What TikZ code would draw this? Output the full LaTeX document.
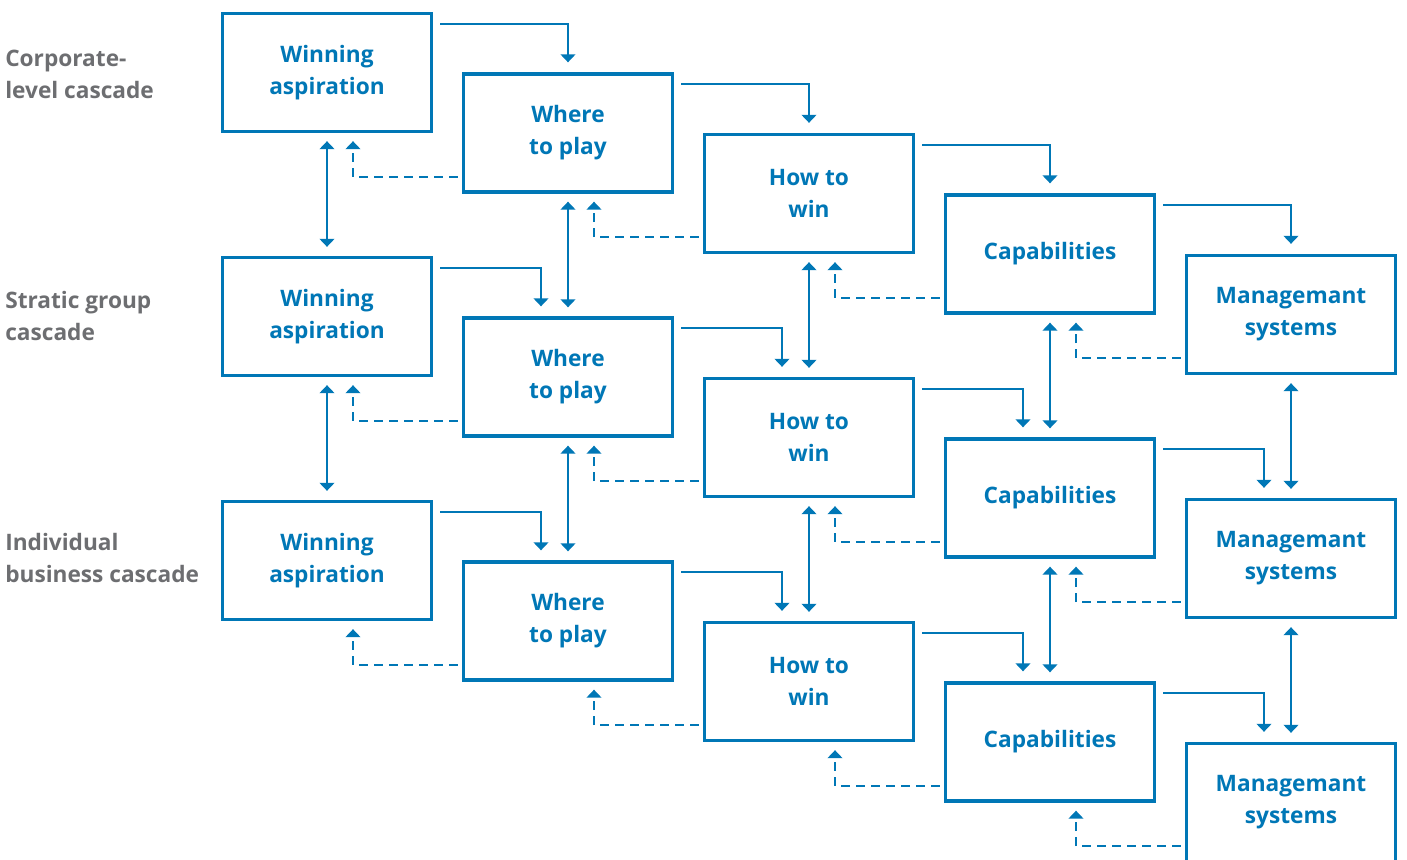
\documentclass[tikz,border=0pt]{standalone}
\usepackage{fontspec}
\setmainfont{Open Sans}
\usetikzlibrary{arrows.meta,positioning,calc}
\definecolor{CascadeBlue}{HTML}{0077B6}
\definecolor{LabelGray}{HTML}{6D6E71}

\tikzset{
  stage/.style={draw=CascadeBlue,line width=2.5pt,fill=white,align=center,
    minimum width=156.75pt,minimum height=88.5pt,text=CascadeBlue,
    font=\fontsize{17}{24}\selectfont\bfseries},
  level/.style={anchor=west,align=left,inner sep=0pt,text=LabelGray,
    font=\fontsize{17}{24}\selectfont\bfseries},
  flow/.style={->,line width=1.7pt,color=CascadeBlue,shorten >=7.5pt},
  back/.style={->,line width=1.7pt,color=CascadeBlue,dash pattern=on 6.75pt off 4.5pt,shorten >=6pt},
  link/.style={<->,line width=1.7pt,color=CascadeBlue,shorten <=6pt,shorten >=6.75pt}
}

\begin{document}
\begin{tikzpicture}[x=0.75pt,y=-0.75pt,>={Triangle[width=11pt,length=6pt]}]
  \useasboundingbox (0,0) rectangle (1407,860);
  % cascade levels
  \node[level] (lvl0) at (5,74) {Corporate-\\level cascade};
  \node[level] (lvl1) at (5,315.5) {Stratic group\\cascade};
  \node[level] (lvl2) at (5,558) {Individual\\business cascade};
  % the five choices, once per level
  \foreach \r in {0,1,2} {
    \foreach \t [count=\i from 0] in {{Winning\\aspiration},{Where\\to play},{How to\\win},{Capabilities},{Managemant\\systems}} {
      \node[stage] (b\r\i) at ({327+241*\i},{72.5+60.5*\i+244*\r}) {\t};
    }
  }
  % forward and feedback arrows within a level
  \foreach \r/\dx in {0/0,1/-27,2/-27} {
    \foreach \i/\j in {0/1,1/2,2/3,3/4} {
      \draw[flow] ([shift={(7,12)}]b\r\i.north east) -| ([shift={(\dx,0)}]b\r\j.north);
      \draw[back] ([shift={(-4,-17)}]b\r\j.south west) -| ([shift={(26,0)}]b\r\i.south);
    }
  }
  % links between levels
  \foreach \r/\s in {0/1,1/2} {
    \foreach \i in {0,...,4} {
      \draw[link] (b\r\i.south) -- (b\s\i.north);
    }
  }
\end{tikzpicture}
\end{document}
